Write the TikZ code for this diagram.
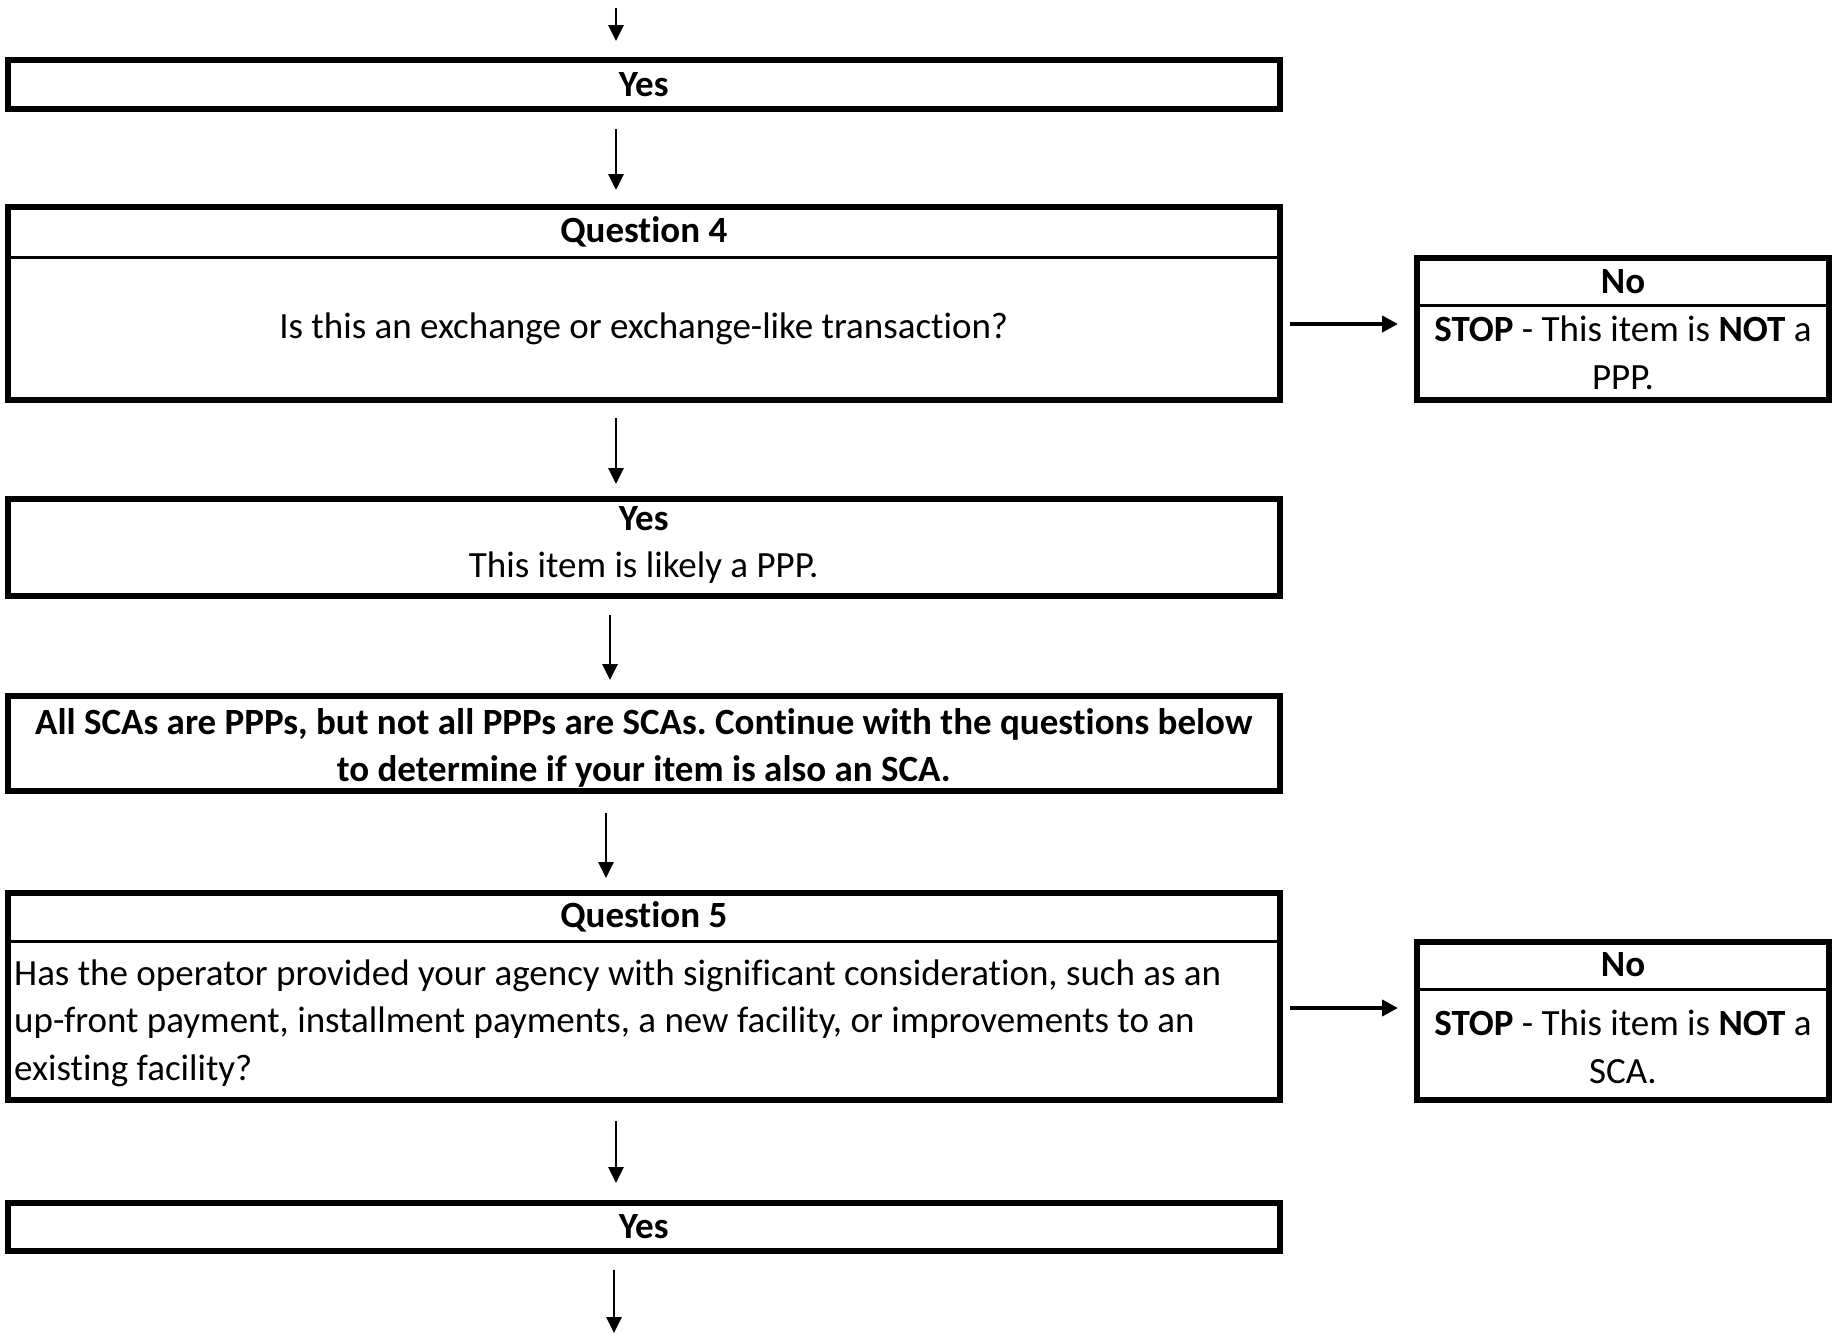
\documentclass[tikz,border=0pt]{standalone}
\usepackage{fontspec}
\setmainfont[Ligatures={NoCommon,NoContextual},Contextuals=NoAlternate]{Carlito}
\usetikzlibrary{arrows.meta}
\frenchspacing
\newcommand{\nlti}{t\kern0pt i}
\begin{document}
\begin{tikzpicture}[x=1pt,y=-1pt,
  box/.style={draw, line width=6pt, inner sep=0pt, minimum width=1271.5pt},
  nobox/.style={draw, line width=6pt, inner sep=0pt, minimum width=412pt},
  txt/.style={inner sep=0pt, font=\fontsize{37}{47.5}\selectfont, align=center},
  txtb/.style={inner sep=0pt, font=\fontsize{37}{47.5}\selectfont\bfseries, align=center},
  varr/.style={line width=2.8pt, -{Triangle[length=16pt,width=15pt]}},
  harr/.style={line width=4pt, -{Triangle[length=16pt,width=16pt]}},
  div/.style={line width=3pt}]
\useasboundingbox (0,0) rectangle (1837,1333);

% boxes
\node[box, minimum height=49.5pt] (yes1) at (643.75,84.25) {};
\node[box, minimum height=192.5pt] (q4) at (643.75,303.25) {};
\node[nobox, minimum height=141.5pt] (no1) at (1623,328.75) {};
\node[box, minimum height=97pt] (yes2) at (643.75,547.5) {};
\node[box, minimum height=95pt] (sca) at (643.75,743.5) {};
\node[box, minimum height=207pt] (q5) at (643.75,996.5) {};
\node[nobox, minimum height=158pt] (no2) at (1623,1021) {};
\node[box, minimum height=48pt] (yes3) at (643.75,1227) {};

% dividers
\draw[div] (q4.west |- 0,257) -- (q4.east |- 0,257);
\draw[div] (no1.west |- 0,305.5) -- (no1.east |- 0,305.5);
\draw[div] (q5.west |- 0,941.5) -- (q5.east |- 0,941.5);
\draw[div] (no2.west |- 0,989) -- (no2.east |- 0,989);

% texts
\node[txtb] (t-yes1) at (643.75,84.25) {Yes};
\node[txtb] (t-q4h) at (643.75,232) {Ques\nlti on 4};
\node[txt] (t-q4b) at (643.75,328.5) {Is this an exchange or exchange-like transac\nlti on?};
\node[txtb] (t-no1h) at (1623,282) {No};
\node[txt] (t-no1b) at (1623,353) {\textbf{STOP} - This item is \textbf{NOT} a\\PPP.};
\node[txt] (t-yes2) at (643.75,545) {\textbf{Yes}\\This item is likely a PPP.};
\node[txtb] (t-sca) at (643.75,748) {All SCAs are PPPs, but not all PPPs are SCAs. Con\nlti nue with the ques\nlti ons below\\to determine if your item is also an SCA.};
\node[txtb] (t-q5h) at (643.75,917) {Ques\nlti on 5};
\node[txt, align=left, anchor=west] (t-q5b) at (14,1023) {Has the operator provided your agency with signif\kern0pt icant considera\nlti on, such as an\\up-front payment, installment payments, a new facility, or improvements to an\\exis\nlti ng facility?};
\node[txtb] (t-no2h) at (1623,965) {No};
\node[txt] (t-no2b) at (1623,1047) {\textbf{STOP} - This item is \textbf{NOT} a\\SCA.};
\node[txtb] (t-yes3) at (643.75,1227) {Yes};

% connector columns / free ends
\coordinate (top) at (616,8);
\coordinate (bot) at (614,1333);
\coordinate (c1) at (616,0);
\coordinate (c3) at (610,0);
\coordinate (c4) at (606,0);
\coordinate (h1) at (0,324);
\coordinate (h2) at (0,1008);

% arrows
\draw[varr, shorten >=15.5pt] (top) -- (yes1.north -| top);
\draw[varr, shorten <=17pt, shorten >=14pt] (yes1.south -| c1) -- (q4.north -| c1);
\draw[varr, shorten <=15.5pt, shorten >=12pt] (q4.south -| c1) -- (yes2.north -| c1);
\draw[varr, shorten <=16pt, shorten >=13pt] (yes2.south -| c3) -- (sca.north -| c3);
\draw[varr, shorten <=19pt, shorten >=12pt] (sca.south -| c4) -- (q5.north -| c4);
\draw[varr, shorten <=18pt, shorten >=17pt] (q5.south -| c1) -- (yes3.north -| c1);
\draw[varr, shorten <=16pt] (yes3.south -| bot) -- (bot);
\draw[harr, shorten <=7.5pt, shorten >=16pt] (q4.east |- h1) -- (no1.west |- h1);
\draw[harr, shorten <=7.5pt, shorten >=16pt] (q5.east |- h2) -- (no2.west |- h2);
\end{tikzpicture}
\end{document}
